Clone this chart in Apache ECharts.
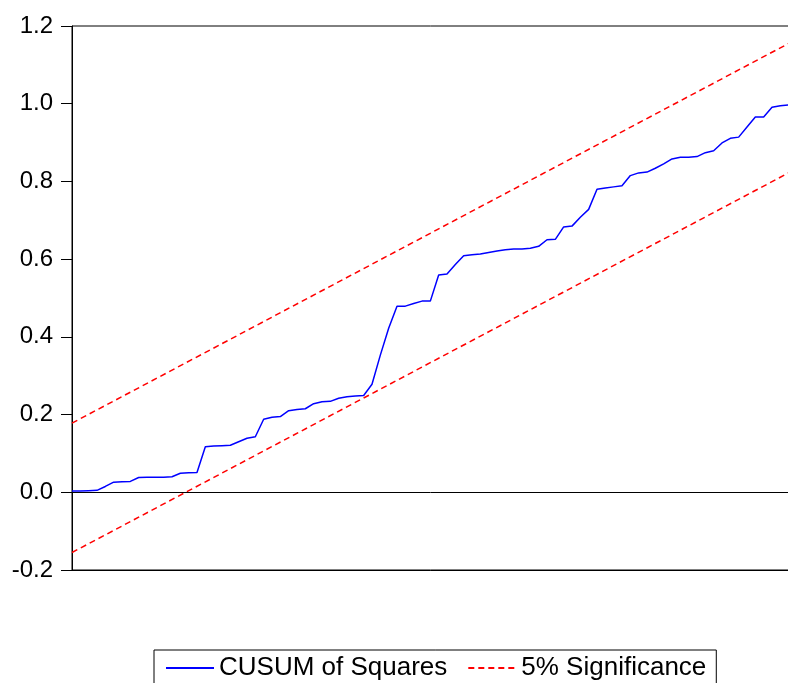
<!DOCTYPE html>
<html>
<head>
<meta charset="utf-8">
<script src="https://cdn.jsdelivr.net/npm/echarts@6/dist/echarts.min.js"></script>
<style>
html,body{margin:0;padding:0;background:#fff;overflow:hidden;}
#wrap{position:relative;width:788px;height:683px;}
#c{position:absolute;left:0;top:0;width:788px;height:683px;}
#ov{position:absolute;left:0;top:0;width:788px;height:683px;pointer-events:none;}
.tk{position:absolute;width:1px;background:#000;}
.lb{position:absolute;width:100px;text-align:center;font:24px/24px 'Liberation Sans',Arial,Helvetica,sans-serif;color:#000;}
</style>
</head>
<body>
<div id="wrap"><div id="c"></div><div id="ov"></div></div>
<script>
// Monthly observations 2006M09 .. 2013M12
var months = [
 '2006M09','2006M10','2006M11','2006M12',
 '2007M01','2007M02','2007M03','2007M04','2007M05','2007M06','2007M07','2007M08','2007M09','2007M10','2007M11','2007M12',
 '2008M01','2008M02','2008M03','2008M04','2008M05','2008M06','2008M07','2008M08','2008M09','2008M10','2008M11','2008M12',
 '2009M01','2009M02','2009M03','2009M04','2009M05','2009M06','2009M07','2009M08','2009M09','2009M10','2009M11','2009M12',
 '2010M01','2010M02','2010M03','2010M04','2010M05','2010M06','2010M07','2010M08','2010M09','2010M10','2010M11','2010M12',
 '2011M01','2011M02','2011M03','2011M04','2011M05','2011M06','2011M07','2011M08','2011M09','2011M10','2011M11','2011M12',
 '2012M01','2012M02','2012M03','2012M04','2012M05','2012M06','2012M07','2012M08','2012M09','2012M10','2012M11','2012M12',
 '2013M01','2013M02','2013M03','2013M04','2013M05','2013M06','2013M07','2013M08','2013M09','2013M10','2013M11','2013M12'
];
var cusumSq = [
 0.003,0.003,0.004,0.005,0.015,0.026,0.027,0.028,0.038,0.039,
 0.039,0.039,0.040,0.049,0.050,0.051,0.117,0.119,0.120,0.121,
 0.130,0.139,0.143,0.188,0.193,0.195,0.210,0.213,0.215,0.228,
 0.233,0.234,0.242,0.246,0.248,0.249,0.278,0.353,0.422,0.479,
 0.479,0.486,0.492,0.492,0.559,0.562,0.586,0.609,0.611,0.613,
 0.617,0.621,0.624,0.626,0.626,0.628,0.633,0.650,0.651,0.683,
 0.685,0.708,0.728,0.780,0.783,0.786,0.789,0.815,0.822,0.824,
 0.834,0.845,0.858,0.862,0.862,0.864,0.874,0.879,0.899,0.911,
 0.914,0.940,0.966,0.966,0.991,0.995,0.997,1.000
];
// 5% significance bounds (straight lines: first and last observation)
var upperBound = [0.178, 1.1665];
var lowerBound = [-0.155, 0.8335];
var yTicks = [-0.2, 0.0, 0.2, 0.4, 0.6, 0.8, 1.0, 1.2];
var yearLabels = ['2007','2008','2009','2010','2011','2012','2013'];

var FONT = 'Liberation Sans, Arial, Helvetica, sans-serif';
var last = months.length - 1;
var yMin = yTicks[0], yMax = yTicks[yTicks.length - 1];

// tick / label positions (observation indices) derived from the month labels
var yearTickIdx = [], quarterTickIdx = [], yearLabelIdx = [];
months.forEach(function (m, i) {
  var mm = m.slice(5);
  if (mm === 'M01') yearTickIdx.push(i);
  if (mm === 'M01' || mm === 'M04' || mm === 'M07' || mm === 'M10') quarterTickIdx.push(i);
  if (mm === 'M07' && yearLabels.indexOf(m.slice(0, 4)) >= 0) yearLabelIdx.push(i);
});

var chart = echarts.init(document.getElementById('c'), null, {renderer: 'canvas'});

chart.setOption({
  animation: false,
  grid: {left: 72, top: 26, width: 725, height: 544, outerBoundsMode: 'none',
    show: true, borderColor: '#000', borderWidth: 1},
  legend: {
    left: 154, top: 650, orient: 'horizontal',
    data: ['CUSUM of Squares', '5% Significance'],
    itemWidth: 48, itemHeight: 14, itemGap: 20,
    itemStyle: {opacity: 0},
    padding: [5, 10, 20, 11],
    borderColor: '#000', borderWidth: 1,
    textStyle: {fontFamily: FONT, fontSize: 26, color: '#000'}
  },
  xAxis: [{
    type: 'value', min: 0, max: last,
    axisLine: {show: true, onZero: false, lineStyle: {color: '#000', width: 1}},
    axisTick: {show: true, length: 12, lineStyle: {color: '#000'}, customValues: yearTickIdx},
    axisLabel: {show: true, margin: 12, color: '#000', fontFamily: FONT, fontSize: 24,
      customValues: yearLabelIdx,
      formatter: function (v) { var m = months[Math.round(v)]; return m ? m.slice(0, 4) : ''; }},
    splitLine: {show: false}
  }, {
    type: 'value', min: 0, max: last, position: 'bottom',
    axisLine: {show: false, onZero: false},
    axisTick: {show: true, length: 7, lineStyle: {color: '#000'}, customValues: quarterTickIdx},
    axisLabel: {show: false},
    splitLine: {show: false}
  }],
  yAxis: {
    type: 'value', min: yMin, max: yMax, interval: 0.2,
    axisLine: {show: true, lineStyle: {color: '#000', width: 1}},
    axisTick: {show: true, length: 11, lineStyle: {color: '#000'}},
    axisLabel: {margin: 19, color: '#000', fontFamily: FONT, fontSize: 24,
      formatter: function (v) { return v.toFixed(1); }},
    splitLine: {show: false}
  },
  series: [{
    name: 'CUSUM of Squares', type: 'line', symbol: 'none',
    data: cusumSq.map(function (v, i) { return [i, v]; }),
    lineStyle: {color: '#0000ff', width: 1.5}, itemStyle: {color: '#0000ff'},
    markLine: {silent: true, symbol: 'none', label: {show: false},
      lineStyle: {color: '#000', type: 'solid', width: 1},
      data: [{yAxis: 0}]},
    z: 3
  }, {
    name: '5% Significance', type: 'line', symbol: 'none',
    data: [[0, upperBound[0]], [last, upperBound[1]]],
    lineStyle: {color: '#ff0000', width: 1.5, type: [6, 4]}, itemStyle: {color: '#ff0000'}
  }, {
    name: '5% Significance', type: 'line', symbol: 'none',
    data: [[0, lowerBound[0]], [last, lowerBound[1]]],
    lineStyle: {color: '#ff0000', width: 1.5, type: [6, 4]}, itemStyle: {color: '#ff0000'}
  }]
});

// Fallback: if the axis ticks / year labels were not drawn on the canvas,
// place them from the chart's own x scale (convertToPixel).
(function () {
  var cv = document.querySelector('#c canvas');
  var ctx = null;
  try { ctx = cv ? cv.getContext('2d') : null; } catch (e) { ctx = null; }
  var ov = document.getElementById('ov');
  function px(idx) { return chart.convertToPixel({xAxisIndex: 0, yAxisIndex: 0}, [idx, yMin]); }
  function dark(x0, y0, w, h) {
    if (!ctx) return false;
    try {
      var d = ctx.getImageData(x0, y0, w, h).data;
      for (var k = 0; k < d.length; k += 4) {
        if (d[k + 3] > 80 && d[k] < 150 && d[k + 1] < 150 && d[k + 2] < 150) return true;
      }
    } catch (e) { return false; }
    return false;
  }
  var pMaj = px(yearTickIdx[0]);
  var hasMajor = dark(Math.round(pMaj[0]) - 1, Math.round(pMaj[1]) + 8, 3, 3);
  var pMin = px(quarterTickIdx[0]);
  var hasMinor = dark(Math.round(pMin[0]) - 1, Math.round(pMin[1]) + 3, 3, 3);
  var pLab = px(yearLabelIdx[0]);
  var hasLabels = dark(Math.round(pLab[0]) - 25, Math.round(pLab[1]) + 18, 50, 14);

  quarterTickIdx.forEach(function (idx) {
    var isYear = yearTickIdx.indexOf(idx) >= 0;
    if ((isYear && hasMajor) || (!isYear && hasMinor)) return;
    var p = px(idx);
    var el = document.createElement('div');
    el.className = 'tk';
    el.style.left = Math.round(p[0]) + 'px';
    el.style.top = Math.round(p[1]) + 'px';
    el.style.height = (isYear ? 12 : 7) + 'px';
    ov.appendChild(el);
  });
  if (!hasLabels) {
    yearLabelIdx.forEach(function (idx) {
      var p = px(idx);
      var el = document.createElement('div');
      el.className = 'lb';
      el.style.left = Math.round(p[0] - 50) + 'px';
      el.style.top = Math.round(p[1] + 14) + 'px';
      el.textContent = months[idx].slice(0, 4);
      ov.appendChild(el);
    });
  }
})();
</script>
</body>
</html>
